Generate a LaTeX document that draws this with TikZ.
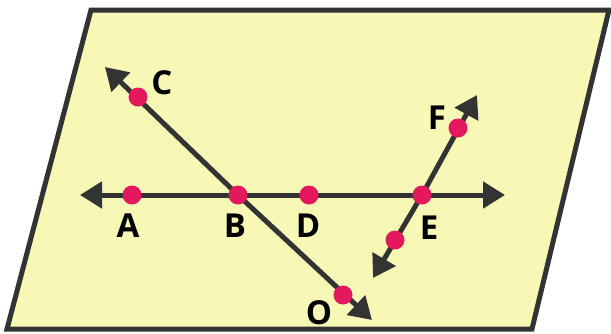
\documentclass[tikz,border=0pt]{standalone}
\usepackage{fontspec}
\setmainfont{Open Sans}
\usetikzlibrary{arrows.meta}
\definecolor{planeyellow}{HTML}{F8F8B6}
\definecolor{pointred}{HTML}{E3185D}
\definecolor{linegray}{HTML}{333333}
\tikzset{
  ray/.style={linegray,line width=5pt,-{Triangle[length=22pt,width=26pt]}},
  lbl/.style={font=\bfseries\fontsize{33}{33}\selectfont,text=black,inner sep=0pt}
}
\begin{document}
\begin{tikzpicture}[x=1pt,y=-1pt]
  \useasboundingbox (0,0) rectangle (611,333);
  % plane
  \coordinate (p1) at (91,10);
  \coordinate (p2) at (609,10);
  \coordinate (p3) at (532,329);
  \coordinate (p4) at (7,329);
  \draw[line width=5pt,linegray,fill=planeyellow] (p1) -- (p2) -- (p3) -- (p4) -- cycle;
  % points and arrow ends
  \coordinate (A) at (132,195);
  \coordinate (B) at (238,195);
  \coordinate (D) at (309,195);
  \coordinate (E) at (422,195);
  \coordinate (C) at (138,97);
  \coordinate (O) at (343,295);
  \coordinate (F) at (458,128);
  \coordinate (G) at (395,240);
  \coordinate (tipL) at (80,195);
  \coordinate (tipR) at (505,195);
  \coordinate (tipC) at (105,67);
  \coordinate (tipO) at (372,320);
  \coordinate (tipF) at (477,95);
  \coordinate (tipG) at (373,278);
  % lines
  \foreach \s/\t in {B/tipL,B/tipR,B/tipC,B/tipO,E/tipF,E/tipG}{\draw[ray] (\s) -- (\t);}
  \foreach \p in {A,B,D,E,C,O,F,G}{\fill[pointred] (\p) circle (9.5);}
  % labels
  \node[lbl] (labA) at (128,226) {A};
  \node[lbl] (labB) at (235,226) {B};
  \node[lbl] (labD) at (308,226) {D};
  \node[lbl] (labE) at (429,228) {E};
  \node[lbl] (labC) at (162,83) {C};
  \node[lbl] (labF) at (437,118) {F};
  \node[lbl] (labO) at (319,313) {O};
\end{tikzpicture}
\end{document}
